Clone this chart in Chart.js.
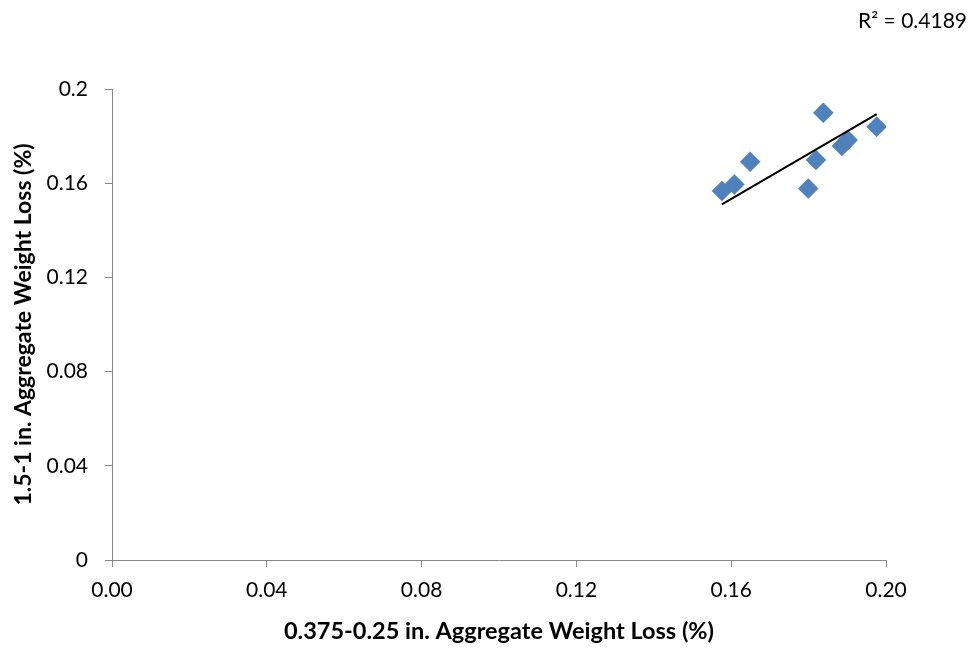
<!DOCTYPE html>
<html>
<head>
<meta charset="utf-8">
<script src="https://cdn.jsdelivr.net/npm/chart.js@4/dist/chart.umd.min.js"></script>
<style>
  html, body { margin: 0; padding: 0; background: #ffffff; }
  #wrap { width: 974px; height: 648px; }
</style>
</head>
<body>
<div id="wrap"><canvas id="c" width="974" height="648"></canvas></div>
<script>
// Weight loss of the fine fraction (x) against the coarse fraction (y), in percent
const fineLoss   = [0.1576, 0.1608, 0.1649, 0.1838, 0.1819, 0.1799, 0.1886, 0.1901, 0.1976];
const coarseLoss = [0.1567, 0.1595, 0.1691, 0.1899, 0.1699, 0.1577, 0.1758, 0.1783, 0.1840];

const xTickLabels = ['0.00', '0.04', '0.08', '0.12', '0.16', '0.20'];
const yTickLabels = ['0', '0.04', '0.08', '0.12', '0.16', '0.2'];

const xTitle = '0.375-0.25 in. Aggregate Weight Loss (%)';
const yTitle = '1.5-1 in. Aggregate Weight Loss (%)';
const rSquaredText = 'R\u00B2 = 0.4189';

// Linear trend through the origin (least squares, zero intercept)
let sxy = 0, sxx = 0;
fineLoss.forEach((x, i) => { sxy += x * coarseLoss[i]; sxx += x * x; });
const slope = sxy / sxx;
const xMin = Math.min(...fineLoss), xMax = Math.max(...fineLoss);

const points = fineLoss.map((x, i) => ({ x: x, y: coarseLoss[i] }));
const trend = [{ x: xMin, y: slope * xMin }, { x: xMax, y: slope * xMax }];

const FONT = 'Lato';
const AXIS_GREY = '#888888';

const rSquaredLabel = {
  id: 'rSquaredLabel',
  afterDraw(chart) {
    const ctx = chart.ctx;
    ctx.save();
    ctx.font = '21px ' + FONT;
    ctx.fillStyle = '#000000';
    ctx.textAlign = 'right';
    ctx.textBaseline = 'middle';
    ctx.fillText(rSquaredText, 967, 21);
    ctx.restore();
  }
};

new Chart(document.getElementById('c'), {
  type: 'scatter',
  data: {
    datasets: [
      {
        label: 'trend',
        data: trend,
        showLine: true,
        borderColor: '#000000',
        borderWidth: 2,
        pointRadius: 0,
        fill: false,
        order: 0
      },
      {
        label: 'samples',
        data: points,
        pointStyle: 'rectRot',
        pointRadius: 10,
        pointBackgroundColor: '#4F81BD',
        pointBorderColor: '#4A7EBB',
        pointBorderWidth: 0.5,
        order: 1
      }
    ]
  },
  options: {
    responsive: false,
    animation: false,
    layout: { padding: { top: 89, right: 88, left: 0, bottom: 0 } },
    plugins: { legend: { display: false }, tooltip: { enabled: false } },
    scales: {
      x: {
        type: 'linear',
        min: 0, max: 0.2,
        afterFit: (s) => { s.height = 88; },
        grid: { drawOnChartArea: false, drawTicks: true, tickLength: 7, color: AXIS_GREY },
        border: { display: true, color: AXIS_GREY, width: 1 },
        ticks: {
          stepSize: 0.04,
          padding: 11,
          color: '#000000',
          font: { family: FONT, size: 21 },
          maxRotation: 0,
          callback: (v, i) => xTickLabels[i]
        },
        title: {
          display: true,
          text: xTitle,
          color: '#000000',
          font: { family: FONT, size: 23.5, weight: 'bold' },
          padding: { top: 0, bottom: 2 }
        }
      },
      y: {
        type: 'linear',
        min: 0, max: 0.2,
        afterFit: (s) => { s.width = 112; },
        grid: { drawOnChartArea: false, drawTicks: true, tickLength: 7, color: AXIS_GREY },
        border: { display: true, color: AXIS_GREY, width: 1 },
        ticks: {
          stepSize: 0.04,
          padding: 17,
          color: '#000000',
          font: { family: FONT, size: 21 },
          callback: (v, i) => yTickLabels[i]
        },
        title: {
          display: true,
          text: yTitle,
          color: '#000000',
          font: { family: FONT, size: 23, weight: 'bold' },
          padding: { top: 10, bottom: 0 }
        }
      }
    }
  },
  plugins: [rSquaredLabel]
});
</script>
</body>
</html>
